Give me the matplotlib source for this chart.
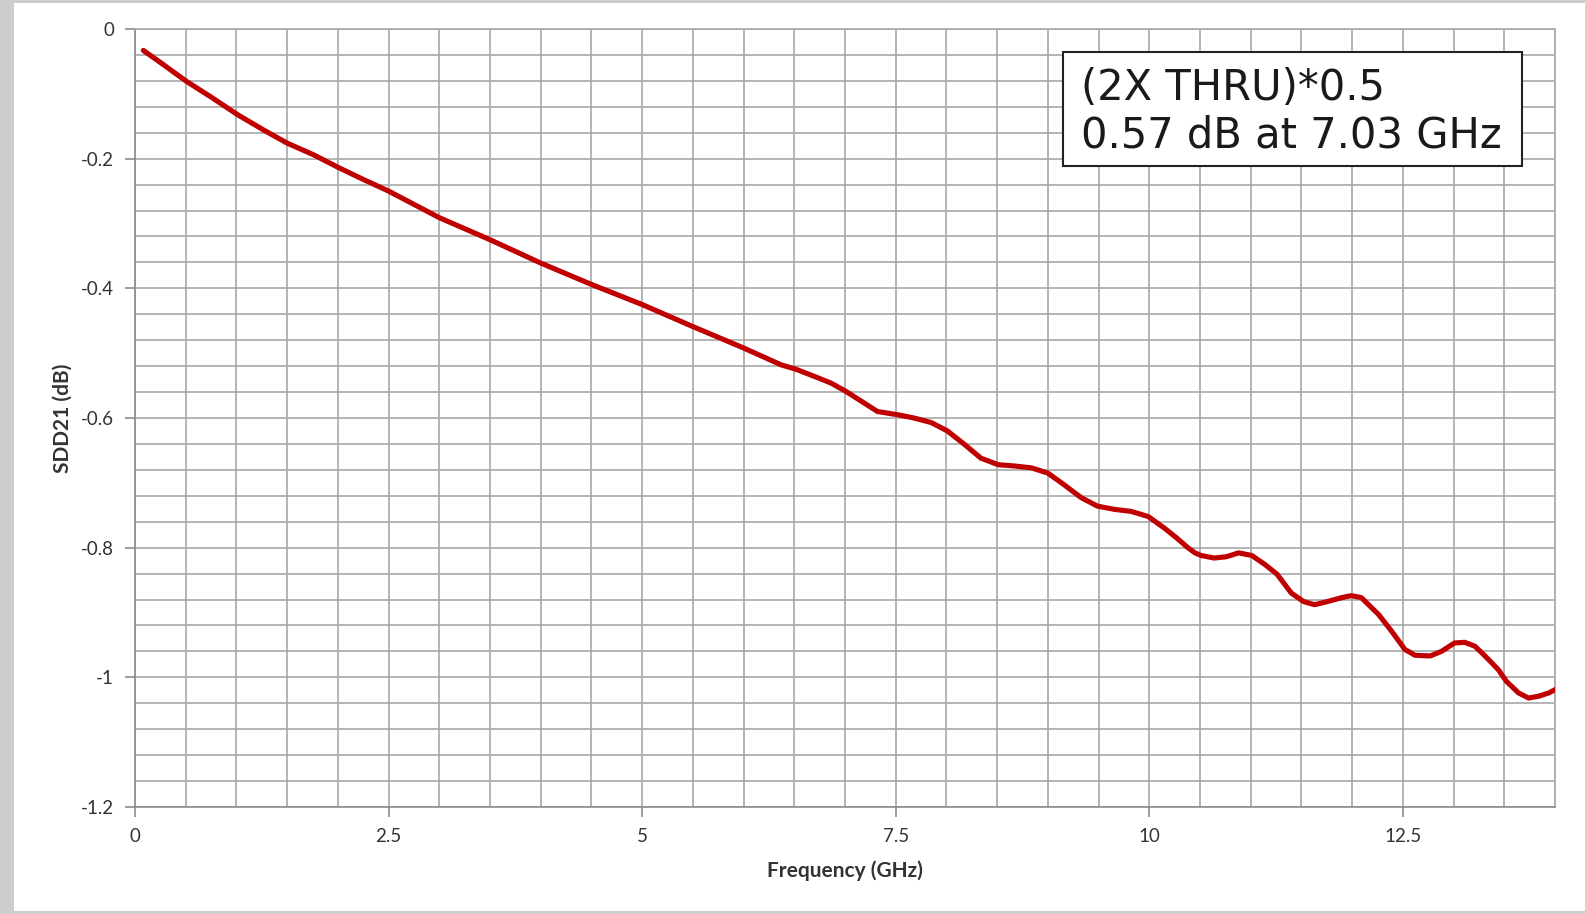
import matplotlib
matplotlib.use("Agg")
import matplotlib.pyplot as plt
from matplotlib.patches import Rectangle
from matplotlib.ticker import MultipleLocator, FixedLocator, FixedFormatter

# values
freq = [0.082, 0.28, 0.51, 0.76, 1.01, 1.27, 1.5, 1.76, 2.01, 2.25, 2.5, 3.0,
        3.5, 4.0, 4.5, 5.0, 5.5, 6.0, 6.37, 6.52, 6.70, 6.86, 7.01, 7.16,
        7.32, 7.52, 7.68, 7.85, 8.01, 8.18, 8.34, 8.51, 8.67, 8.84, 9.00,
        9.16, 9.33, 9.49, 9.66, 9.82, 9.99, 10.15, 10.27, 10.38, 10.45, 10.51,
        10.64, 10.76, 10.88, 11.01, 11.14, 11.26, 11.40, 11.52, 11.63, 11.76,
        11.90, 11.99, 12.09, 12.26, 12.39, 12.52, 12.62, 12.77, 12.88, 13.01,
        13.11, 13.21, 13.31, 13.44, 13.52, 13.64, 13.74, 13.84, 13.94, 14.0]
sdd21 = [-0.033, -0.055, -0.081, -0.106, -0.132, -0.156, -0.176, -0.194,
         -0.214, -0.232, -0.25, -0.291, -0.325, -0.361, -0.394, -0.425,
         -0.459, -0.492, -0.518, -0.525, -0.536, -0.546, -0.559, -0.574,
         -0.590, -0.595, -0.600, -0.607, -0.620, -0.641, -0.662, -0.672,
         -0.674, -0.677, -0.685, -0.703, -0.723, -0.736, -0.741, -0.744,
         -0.752, -0.770, -0.785, -0.800, -0.808, -0.812, -0.816, -0.814,
         -0.808, -0.812, -0.826, -0.841, -0.870, -0.883, -0.888, -0.883,
         -0.877, -0.874, -0.877, -0.903, -0.929, -0.957, -0.966, -0.967,
         -0.960, -0.947, -0.946, -0.952, -0.967, -0.988, -1.006, -1.024,
         -1.032, -1.029, -1.024, -1.019]

xticks = [0, 2.5, 5, 7.5, 10, 12.5]
xtick_labels = ["0", "2.5", "5", "7.5", "10", "12.5"]
yticks = [0, -0.2, -0.4, -0.6, -0.8, -1.0, -1.2]
ytick_labels = ["0", "-0.2", "-0.4", "-0.6", "-0.8", "-1", "-1.2"]

note = "(2X THRU)*0.5\n0.57 dB at 7.03 GHz"

W, H = 1585, 914
fig = plt.figure(figsize=(W / 100, H / 100), dpi=100, facecolor="#cdcdcd")
fig.add_artist(Rectangle((14 / W, 3 / H), 1 - 14 / W, 1 - 6 / H,
                         transform=fig.transFigure, facecolor="white",
                         edgecolor="none", zorder=-10))

ax = fig.add_axes([135 / W, 1 - 807 / H, 1420 / W, 778 / H])
ax.plot(freq, sdd21, color="#c00000", lw=3.7, solid_capstyle="round",
        solid_joinstyle="round", zorder=3)

ax.set_xlim(0, 14)
ax.set_ylim(-1.2, 0)
ax.xaxis.set_major_locator(FixedLocator(xticks))
ax.xaxis.set_major_formatter(FixedFormatter(xtick_labels))
ax.yaxis.set_major_locator(FixedLocator(yticks))
ax.yaxis.set_major_formatter(FixedFormatter(ytick_labels))
ax.xaxis.set_minor_locator(MultipleLocator(0.5))
ax.yaxis.set_minor_locator(MultipleLocator(0.04))

ax.grid(True, which="both", color="#a8a8a8", lw=1.2)
ax.set_axisbelow(True)
ax.tick_params(which="major", length=7, width=1.2, color="#8c8c8c",
               labelsize=13.5, labelcolor="#333333", pad=8)
ax.tick_params(which="minor", length=0)
for s in ax.spines.values():
    s.set_color("#a8a8a8")
    s.set_linewidth(1.2)
ax.spines["left"].set_color("#8c8c8c")
ax.spines["bottom"].set_color("#8c8c8c")

for lab in ax.get_xticklabels() + ax.get_yticklabels():
    lab.set_fontfamily("Lato")

ax.set_xlabel("Frequency (GHz)", fontsize=15, fontweight="bold",
              family="Lato", color="#333333", labelpad=11)
ax.set_ylabel("SDD21 (dB)", fontsize=15, fontweight="bold",
              family="Lato", color="#333333", labelpad=6)

# annotation box (pixel placement)
fig.add_artist(Rectangle((1063 / W, 1 - 166 / H), 459 / W, 114 / H,
                         transform=fig.transFigure, facecolor="white",
                         edgecolor="#222222", lw=1.5, zorder=4))
fig.text(1081 / W, 1 - 148 / H, note, fontsize=30, family="DejaVu Sans",
         color="#1a1a1a", va="baseline", ha="left", linespacing=1.17,
         zorder=5)

fig.savefig("out.png", dpi=100, facecolor=fig.get_facecolor())
